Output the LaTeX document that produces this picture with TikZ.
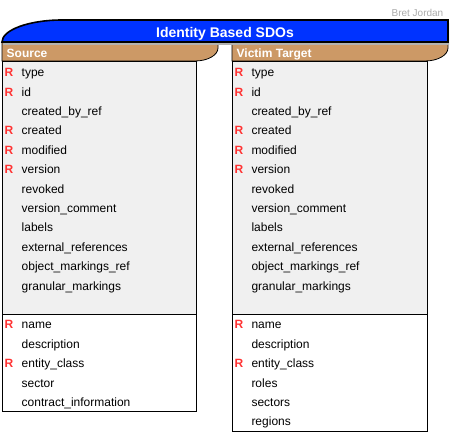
\documentclass[tikz,border=0pt]{standalone}
\usepackage{fontspec}
\setmainfont{Liberation Sans}
\definecolor{titleblue}{RGB}{0,51,255}
\definecolor{headtan}{RGB}{204,153,102}
\definecolor{fieldgray}{RGB}{240,240,240}
\definecolor{reqred}{RGB}{255,51,51}
\tikzset{
  field/.style={anchor=base west, inner sep=0pt, font=\fontsize{12}{14}\selectfont},
  req/.style={anchor=base west, inner sep=0pt, text=reqred, font=\fontsize{12}{14}\selectfont\bfseries},
  headtext/.style={anchor=base west, inner sep=0pt, text=white, font=\fontsize{12}{14}\selectfont\bfseries},
}
\begin{document}
\begin{tikzpicture}[x=1pt,y=-1pt]
            \useasboundingbox (0,0) rectangle (451,433);

            \node[anchor=base east, inner sep=0pt, text=black!33, font=\fontsize{10}{12}\selectfont] (author) at (443.5,16.7) {Bret Jordan};

            % boxes
            \fill[fieldgray] (2.5,61) rectangle (196.7,314);
            \fill[white] (2.5,314) rectangle (196.7,411);
            \draw[semithick] (2.5,61) rectangle (196.7,411);
            \draw[semithick] (2.5,314) -- (196.7,314);

            \fill[fieldgray] (232.3,61) rectangle (427,314);
            \fill[white] (232.3,314) rectangle (427,431);
            \draw[semithick] (232.3,61) rectangle (427,431);
            \draw[semithick] (232.3,314) -- (427,314);

            % headers
            \draw[thick,fill=headtan] (2,42) -- (218,42) -- (218,48) .. controls (218,55) and (208,61) .. (195,61) -- (2,61) -- cycle;
            \draw[thick,fill=headtan] (232,42) -- (448,42) -- (448,48) .. controls (448,55) and (438,61) .. (425,61) -- (232,61) -- cycle;
            \node[headtext] (src) at (6.5,57.3) {Source};
            \node[headtext] (vic) at (236.5,57.3) {Victim Target};

            % title bar
            \fill[black!30] (3,45) .. controls (3,32.9) and (30,23) .. (63,23) -- (449,23) -- (449,45) -- cycle;
            \draw[line width=1.6pt,fill=titleblue] (2,42) .. controls (2,29.9) and (29,20) .. (62,20) -- (448,20) -- (448,42) -- cycle;
            \node[anchor=base, inner sep=0pt, text=white, font=\fontsize{14}{16}\selectfont\bfseries] (title) at (225,37.3) {Identity Based SDOs};

            % common fields
            \foreach \bx/\tag in {2.5/src, 232.3/vic} {
                \foreach \fname [count=\i from 0] in {type, id, created\_by\_ref, created, modified, version, revoked, version\_comment, labels, external\_references, object\_markings\_ref, granular\_markings}
                    \node[field] (\tag-c\i) at (\bx+19, 76.7+19.4*\i) {\fname};
                \foreach \i in {0,1,3,4,5}
                    \node[req] (\tag-r\i) at (\bx+2, 76.7+19.4*\i) {R};
                \foreach \i in {0,2}
                    \node[req] (\tag-s\i) at (\bx+2, 329+19.4*\i) {R};
            }

            % specific fields
            \foreach \fname [count=\i from 0] in {name, description, entity\_class, sector, contract\_information}
                \node[field] (src-p\i) at (21.5, 329+19.4*\i) {\fname};
            \foreach \fname [count=\i from 0] in {name, description, entity\_class, roles, sectors, regions}
                \node[field] (vic-p\i) at (251.3, 329+19.4*\i) {\fname};
        \end{tikzpicture}
\end{document}
